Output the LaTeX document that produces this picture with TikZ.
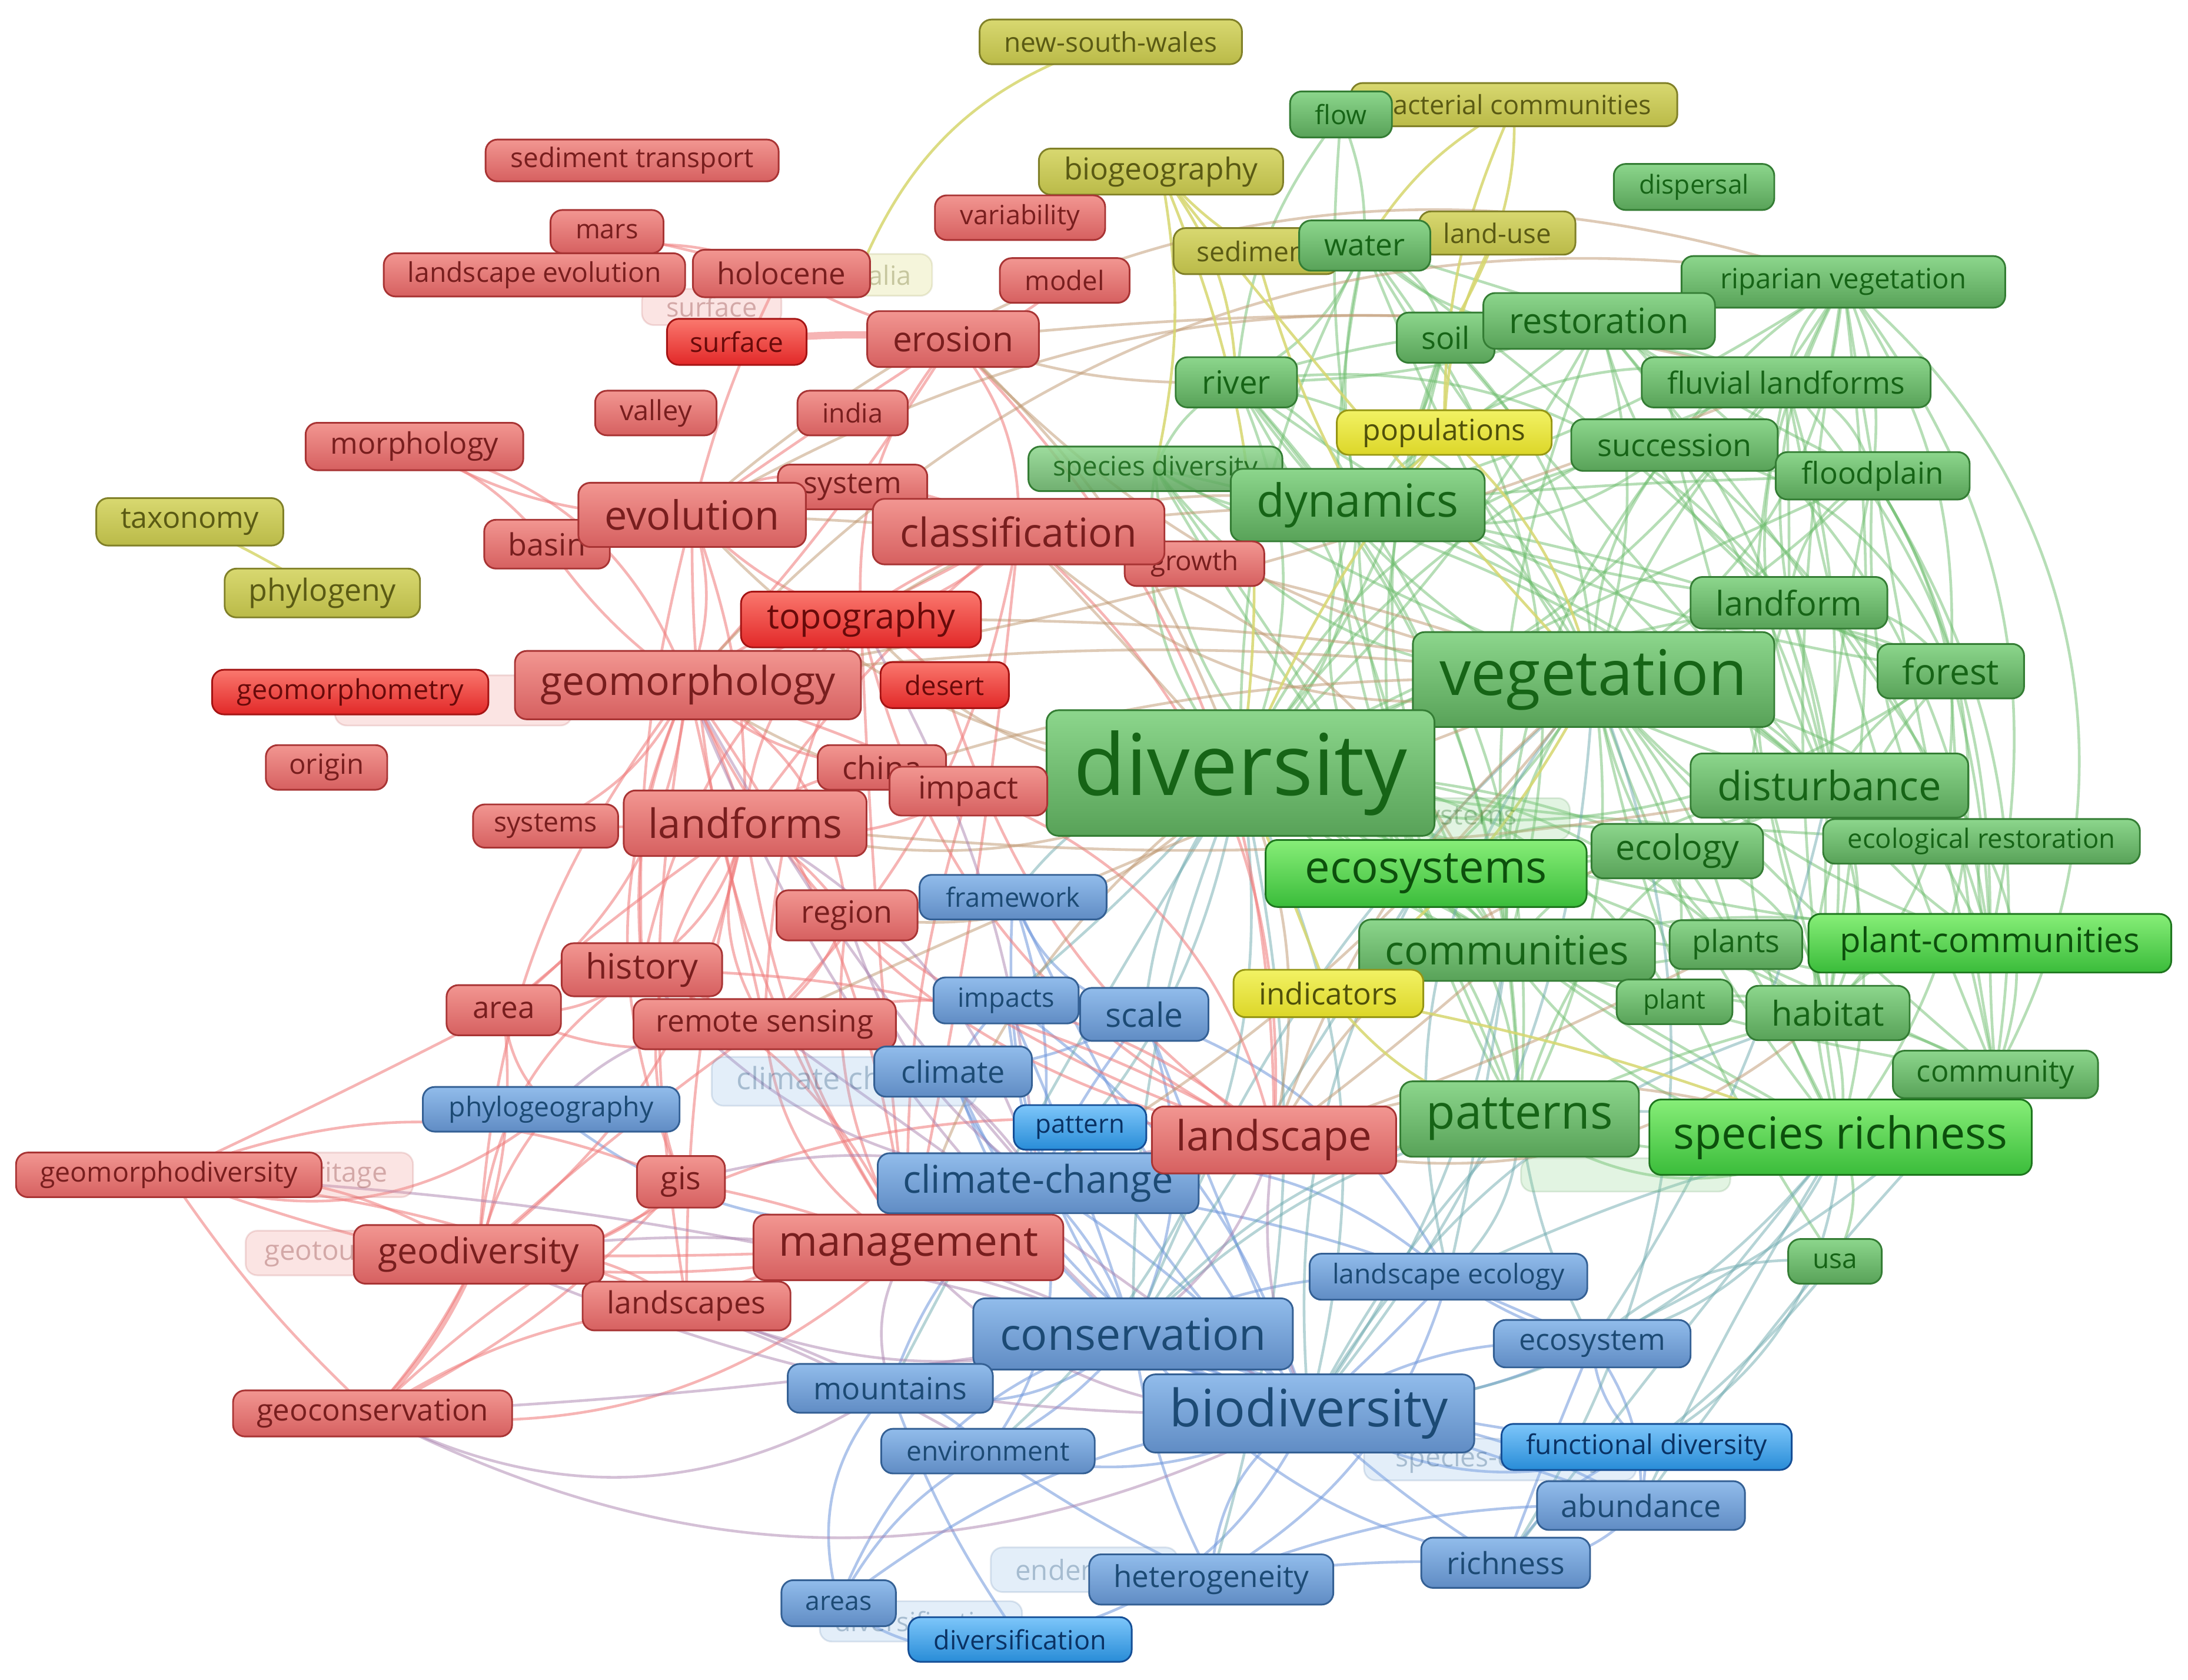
\documentclass[tikz,border=0pt]{standalone}
\usepackage{fontspec}
\setmainfont{Open Sans}
\pgfdeclarelayer{bg}
\pgfsetlayers{bg,main}
\definecolor{rTop}{RGB}{242,150,145}\definecolor{rBot}{RGB}{214,96,96}\definecolor{rBd}{RGB}{168,52,52}\definecolor{rTx}{RGB}{120,30,30}
\definecolor{rbTop}{RGB}{250,120,110}\definecolor{rbBot}{RGB}{226,40,40}\definecolor{rbBd}{RGB}{165,20,20}\definecolor{rbTx}{RGB}{105,10,10}
\definecolor{gTop}{RGB}{140,214,140}\definecolor{gBot}{RGB}{88,162,88}\definecolor{gBd}{RGB}{52,125,52}\definecolor{gTx}{RGB}{22,100,22}
\definecolor{gbTop}{RGB}{135,238,120}\definecolor{gbBot}{RGB}{58,188,58}\definecolor{gbBd}{RGB}{30,118,30}\definecolor{gbTx}{RGB}{12,80,12}
\definecolor{bTop}{RGB}{145,188,235}\definecolor{bBot}{RGB}{96,140,196}\definecolor{bBd}{RGB}{52,96,148}\definecolor{bTx}{RGB}{28,74,116}
\definecolor{bbTop}{RGB}{125,198,250}\definecolor{bbBot}{RGB}{40,140,215}\definecolor{bbBd}{RGB}{20,78,150}\definecolor{bbTx}{RGB}{10,50,100}
\definecolor{yTop}{RGB}{216,216,112}\definecolor{yBot}{RGB}{186,186,72}\definecolor{yBd}{RGB}{128,128,40}\definecolor{yTx}{RGB}{90,90,20}
\definecolor{ybTop}{RGB}{242,242,100}\definecolor{ybBot}{RGB}{220,214,40}\definecolor{ybBd}{RGB}{150,150,20}\definecolor{ybTx}{RGB}{80,80,10}
\definecolor{ceR}{RGB}{240,120,120}\definecolor{ceG}{RGB}{110,190,110}\definecolor{ceB}{RGB}{110,150,220}
\definecolor{ceY}{RGB}{215,215,110}\definecolor{ceM}{RGB}{190,150,110}\definecolor{ceP}{RGB}{170,130,175}\definecolor{ceT}{RGB}{110,170,175}
\newcommand\fz[1]{\fontsize{\fpeval{#1*0.569}pt}{\fpeval{#1*0.7}pt}\selectfont}
\newcommand\kw[8]{\node[#1,minimum width=#5*0.02cm,minimum height=#6*0.02cm,font=\fz{#7}] (#2) at (#3,#4) {#8};}
\tikzset{
  kwbase/.style={rounded corners=0.17cm,draw,line width=0.7pt,inner sep=0pt,shading=axis,shading angle=0},
  kR/.style={kwbase,top color=rTop,bottom color=rBot,draw=rBd,text=rTx},
  kRB/.style={kwbase,top color=rbTop,bottom color=rbBot,draw=rbBd,text=rbTx},
  kG/.style={kwbase,top color=gTop,bottom color=gBot,draw=gBd,text=gTx},
  kGB/.style={kwbase,top color=gbTop,bottom color=gbBot,draw=gbBd,text=gbTx},
  kB/.style={kwbase,top color=bTop,bottom color=bBot,draw=bBd,text=bTx},
  kBB/.style={kwbase,top color=bbTop,bottom color=bbBot,draw=bbBd,text=bbTx},
  kY/.style={kwbase,top color=yTop,bottom color=yBot,draw=yBd,text=yTx},
  kYB/.style={kwbase,top color=ybTop,bottom color=ybBot,draw=ybBd,text=ybTx},
  ghbase/.style={rounded corners=0.17cm,draw,line width=0.7pt,inner sep=0pt,fill opacity=0.25,draw opacity=0.15,text opacity=0.3},
  gR/.style={ghbase,fill=rTop,draw=rBd,text=rTx},
  gG/.style={ghbase,fill=gTop,draw=gBd,text=gTx},
  gB/.style={ghbase,fill=bTop,draw=bBd,text=bTx},
  gY/.style={ghbase,fill=yTop,draw=yBd,text=yTx},
  ebase/.style={line width=1.1pt,draw opacity=0.55},
  eR/.style={ebase,draw=ceR},
  eG/.style={ebase,draw=ceG,draw opacity=0.5},
  eB/.style={ebase,draw=ceB},
  eY/.style={ebase,draw=ceY,draw opacity=0.85},
  eM/.style={ebase,draw=ceM,draw opacity=0.5},
  eP/.style={ebase,draw=ceP,draw opacity=0.5},
  eT/.style={ebase,draw=ceT,draw opacity=0.5},
}
\begin{document}
\begin{tikzpicture}[x=0.02cm,y=-0.02cm]
\useasboundingbox (0,0) rectangle (1568,1204);
% ghost labels
\kw{gY}{aus}{615}{197}{106}{30}{19}{australia}
\kw{gR}{sfg}{510}{220}{100}{26}{19}{surface}
\kw{gR}{gmg}{325}{502}{170}{36}{19}{}
\kw{gR}{ghg}{223}{842}{146}{32}{19.6}{geoheritage}
\kw{gR}{gtg}{243}{898}{134}{32}{20}{geotourism}
\kw{gB}{clg}{605}{775}{190}{35}{22}{climate change}
\kw{gG}{sysg}{1050}{587}{150}{30}{19.5}{systems}
\kw{gG}{sprg}{1165}{842}{150}{24}{19}{}
\kw{gB}{spg}{1075}{1046}{195}{30}{19.5}{species-diversity}
\kw{gB}{edg}{777}{1125}{134}{32}{20}{endemism}
\kw{gB}{dfg}{660}{1162}{145}{29}{19}{diversification}
% olive / green
\kw{kY}{nsw}{796}{30}{188}{32}{19.4}{new-south-wales}
\kw{kY}{bac}{1085}{75}{234}{31}{19}{bacterial communities}
\kw{kG}{flow}{961}{82}{73}{33}{19}{flow}
\kw{kY}{bio}{832}{123}{175}{33}{21.7}{biogeography}
\kw{kY}{sed}{900}{180}{118}{33}{19.5}{sediment}
\kw{kY}{lus}{1073}{167}{112}{31}{19.3}{land-use}
\kw{kG}{wat}{978}{176}{94}{36}{21.7}{water}
\kw{kG}{dis}{1214}{134}{115}{33}{18.7}{dispersal}
\kw{kG}{rip}{1321}{202}{232}{37}{20}{riparian vegetation}
\kw{kG}{soil}{1036}{242}{70}{36}{22}{soil}
\kw{kG}{res}{1146}{230}{166}{40}{25}{restoration}
\kw{kG}{riv}{886}{274}{87}{36}{23}{river}
\kw{kG}{flu}{1280}{274}{207}{36}{21.8}{fluvial landforms}
\kw{kG,fill opacity=0.85}{spd}{828}{336}{182}{32}{19.3}{species diversity}
\kw{kG}{dyn}{973}{362}{182}{52}{32.7}{dynamics}
\kw{kG}{suc}{1200}{319}{148}{37}{22}{succession}
\kw{kG}{fld}{1342}{341}{139}{34}{21.6}{floodplain}
\kw{kG}{lfm}{1282}{432}{141}{37}{24.3}{landform}
\kw{kG}{veg}{1142}{487}{259}{68}{45}{vegetation}
\kw{kG}{for}{1398}{481}{105}{39}{25.5}{forest}
\kw{kG}{div}{889}{554}{278}{90}{61}{diversity}
\kw{kG}{ecr}{1420}{603}{227}{32}{19.2}{ecological restoration}
\kw{kG}{dst}{1311}{563}{199}{46}{29}{disturbance}
\kw{kG}{ecl}{1202}{610}{123}{39}{25}{ecology}
\kw{kGB}{eco}{1022}{626}{230}{48}{32}{ecosystems}
\kw{kG}{com}{1080}{681}{212}{44}{28.8}{communities}
\kw{kG}{plt}{1200}{718}{83}{32}{18.8}{plant}
\kw{kG}{pls}{1244}{677}{95}{35}{22}{plants}
\kw{kGB}{plc}{1426}{676}{260}{42}{24.5}{plant-communities}
\kw{kG}{hab}{1310}{726}{117}{39}{24.5}{habitat}
\kw{kG}{cmy}{1430}{770}{147}{34}{21.4}{community}
\kw{kG}{pat}{1089}{802}{171}{54}{34}{patterns}
\kw{kGB}{spr}{1319}{815}{274}{54}{31.7}{species richness}
\kw{kG}{usa}{1315}{904}{67}{32}{19.4}{usa}
\kw{kYB}{pop}{1035}{310}{154}{32}{21}{populations}
\kw{kY}{tax}{136}{374}{134}{34}{21.2}{taxonomy}
\kw{kY}{phy}{231}{425}{140}{35}{21.9}{phylogeny}
% red
\kw{kR}{stt}{453}{115}{210}{30}{19.4}{sediment transport}
\kw{kR}{mars}{435}{166}{81}{31}{19}{mars}
\kw{kR}{lev}{383}{197}{216}{31}{19.5}{landscape evolution}
\kw{kR}{hol}{560}{196}{127}{34}{21.5}{holocene}
\kw{kRB}{sfc}{528}{245}{100}{33}{19.5}{surface}
\kw{kR}{var}{731}{156}{122}{32}{19}{variability}
\kw{kR}{mod}{763}{201}{93}{32}{19.2}{model}
\kw{kR}{ero}{683}{243}{123}{40}{24.7}{erosion}
\kw{kR}{val}{470}{296}{87}{32}{19.8}{valley}
\kw{kR}{inda}{611}{296}{79}{32}{19}{india}
\kw{kR}{mor}{297}{320}{156}{34}{21.2}{morphology}
\kw{kR}{bas}{392}{390}{90}{35}{22}{basin}
\kw{kR}{syst}{611}{349}{107}{32}{21.2}{system}
\kw{kR}{evo}{496}{369}{163}{46}{28.9}{evolution}
\kw{kR}{gro}{856}{404}{100}{32}{19.3}{growth}
\kw{kR}{cla}{730}{381}{209}{47}{28.6}{classification}
\kw{kRB}{gmt}{251}{496}{198}{32}{19.7}{geomorphometry}
\kw{kR}{gmo}{493}{491}{248}{49}{28.6}{geomorphology}
\kw{kRB}{top}{617}{444}{172}{40}{25}{topography}
\kw{kRB}{des}{677}{491}{92}{33}{19.2}{desert}
\kw{kR}{ori}{234}{550}{87}{32}{20}{origin}
\kw{kR}{chi}{632}{550}{92}{32}{22.6}{china}
\kw{kR}{imp}{694}{567}{113}{35}{22.6}{impact}
\kw{kR}{syss}{391}{592}{104}{31}{19.6}{systems}
\kw{kR}{lfs}{534}{590}{174}{47}{29}{landforms}
\kw{kR}{reg}{607}{656}{101}{36}{22}{region}
\kw{kR}{his}{460}{695}{115}{38}{25}{history}
\kw{kR}{are}{361}{724}{82}{36}{21.6}{area}
\kw{kR}{rse}{548}{734}{188}{36}{21.7}{remote sensing}
\kw{kR}{gmd}{121}{842}{219}{32}{19.6}{geomorphodiversity}
\kw{kR}{gis}{488}{847}{63}{37}{22.7}{gis}
\kw{kR}{gdv}{343}{899}{179}{42}{25.6}{geodiversity}
\kw{kR}{lds}{492}{936}{149}{35}{21.9}{landscapes}
\kw{kR}{man}{651}{894}{222}{47}{29.9}{management}
\kw{kR}{gcn}{267}{1013}{200}{33}{21.5}{geoconservation}
% blue
\kw{kB}{fra}{726}{643}{134}{32}{19}{framework}
\kw{kB}{imps}{721}{717}{104}{33}{19}{impacts}
\kw{kB}{sca}{820}{727}{92}{38}{24}{scale}
\kw{kB}{cli}{683}{768}{113}{36}{22}{climate}
\kw{kB}{phg}{395}{795}{184}{32}{19.5}{phylogeography}
\kw{kB}{clc}{744}{848}{230}{43}{27.4}{climate-change}
\kw{kR}{lsc}{913}{817}{175}{48}{29.8}{landscape}
\kw{kBB}{ptn}{774}{808}{95}{32}{18.5}{pattern}
\kw{kYB}{ind}{952}{712}{136}{34}{21.6}{indicators}
\kw{kB}{lec}{1038}{915}{199}{33}{19.5}{landscape ecology}
\kw{kB}{con}{812}{956}{229}{51}{31.7}{conservation}
\kw{kB}{ecs}{1141}{963}{141}{34}{21.2}{ecosystem}
\kw{kB}{mou}{638}{995}{147}{35}{21.9}{mountains}
\kw{kB}{bdv}{938}{1013}{237}{56}{37}{biodiversity}
\kw{kB}{env}{708}{1040}{153}{32}{19.5}{environment}
\kw{kBB}{fun}{1180}{1037}{208}{33}{19.5}{functional diversity}
\kw{kB}{abu}{1176}{1079}{149}{35}{22}{abundance}
\kw{kB}{ric}{1079}{1120}{121}{36}{21.8}{richness}
\kw{kB}{het}{868}{1132}{175}{36}{21.6}{heterogeneity}
\kw{kB}{ars}{601}{1149}{82}{33}{18.8}{areas}
\kw{kBB}{dfn}{731}{1175}{160}{32}{19}{diversification}
% connectors
\begin{pgfonlayer}{bg}
\fill[white] (0,0) rectangle (1568,1204);
\foreach \a/\b [count=\i] in {div/veg, div/dyn, div/eco, div/com, div/pat, div/spr, div/dst, div/lfm, div/rip, div/flu, div/res, div/suc, div/fld, div/for, div/ecl, div/hab, div/pls, div/plc, div/plt, div/cmy, div/riv, div/wat, div/soil, div/spd, div/ecr, veg/dyn, veg/eco, veg/com, veg/pat, veg/spr, veg/dst, veg/lfm, veg/rip, veg/flu, veg/res, veg/suc, veg/fld, veg/for, veg/ecl, veg/hab, veg/pls, veg/plc, veg/plt, veg/cmy, veg/riv, veg/wat, veg/soil, veg/ecr, veg/usa, veg/spd, dyn/res, dyn/suc, dyn/dst, dyn/com, dyn/pat, dyn/rip, dyn/flu, dyn/fld, dyn/riv, dyn/wat, dyn/soil, dyn/spd, dyn/lfm, dyn/eco, dyn/for, rip/flu, rip/fld, rip/suc, rip/plc, rip/cmy, rip/dst, rip/hab, rip/lfm, rip/for, rip/spr, flu/fld, flu/lfm, flu/suc, flu/dst, flu/hab, flu/plc, flu/cmy, res/suc, res/ecr, res/soil, res/dst, res/com, res/plc, res/fld, res/for, suc/dst, suc/com, suc/plc, suc/fld, suc/for, suc/hab, fld/lfm, fld/for, fld/plc, fld/cmy, fld/hab, lfm/for, lfm/dst, lfm/spr, lfm/hab, for/dst, for/hab, for/cmy, for/spr, for/plc, dst/com, dst/spr, dst/plc, dst/hab, dst/ecr, dst/pat, dst/eco, eco/com, eco/pat, eco/spr, eco/ecl, com/pat, com/spr, com/plc, com/pls, com/hab, com/cmy, pat/spr, pat/hab, pat/cmy, spr/cmy, spr/hab, spr/usa, plc/cmy, plc/hab, hab/cmy, riv/wat, riv/flu, riv/res, wat/soil, wat/flu, wat/res, flow/wat, flow/riv, spd/riv, spd/com, ecl/hab, ecl/spr, pls/plc, plt/hab, ecr/plc, ecr/cmy, spd/veg, spd/eco, spd/pat, riv/dst, riv/com, wat/dst, wat/com, soil/dst, soil/com, riv/eco, wat/eco, riv/pat, flow/dyn, riv/lfm, wat/lfm, soil/pat, spd/dst, riv/for}
{\pgfmathtruncatemacro\bb{mod(\i*37,64)-32}\draw[eG] (\a.center) to[bend left=\bb] (\b.center);}
\foreach \a/\b [count=\i] in {bdv/con, bdv/clc, bdv/het, bdv/abu, bdv/ric, bdv/fun, bdv/ecs, bdv/lec, bdv/mou, bdv/env, bdv/sca, bdv/imps, bdv/cli, bdv/fra, bdv/ars, bdv/dfn, bdv/ptn, con/clc, con/mou, con/env, con/het, con/ecs, con/lec, con/fun, con/ars, con/cli, con/imps, con/sca, con/fra, con/abu, con/ric, clc/cli, clc/imps, clc/mou, clc/env, clc/sca, clc/fra, clc/lec, clc/ecs, clc/ptn, mou/ars, mou/env, mou/dfn, ars/dfn, ars/env, env/het, ecs/fun, ecs/abu, ecs/ric, lec/sca, lec/het, fun/abu, fun/ric, abu/ric, het/ric, sca/imps, sca/fra, cli/imps, cli/sca, phg/clc, het/abu, lec/ecs}
{\pgfmathtruncatemacro\bb{mod(\i*41,60)-30}\draw[eB] (\a.center) to[bend left=\bb] (\b.center);}
\foreach \a/\b [count=\i] in {spr/ric, spr/fun, spr/abu, spr/ecs, spr/lec, spr/bdv, pat/bdv, pat/lec, pat/ecs, div/bdv, div/con, veg/bdv, veg/con, div/clc, div/sca, div/het, eco/bdv, com/bdv, pat/con, dst/ecs, hab/bdv, cmy/ecs, usa/ecs, usa/fun, div/fra, div/imps, veg/lec, com/lec, spr/con, eco/con, div/env, div/mou, veg/ric, cmy/abu}
{\pgfmathtruncatemacro\bb{mod(\i*29,60)-30}\draw[eT] (\a.center) to[bend left=\bb] (\b.center);}
\foreach \a/\b [count=\i] in {gdv/gcn, gdv/gmd, gdv/lds, gdv/man, gdv/gis, gdv/phg, gdv/are, gdv/his, gdv/rse, gdv/lfs, gdv/gmo, gmd/gcn, gmd/phg, gmd/lds, gmd/man, gmd/gis, gmd/are, gcn/man, gcn/lds, gcn/gis, gcn/lsc, gmo/lfs, gmo/evo, gmo/top, gmo/ero, gmo/mor, gmo/bas, gmo/his, gmo/are, gmo/rse, gmo/gis, gmo/man, gmo/lds, gmo/reg, gmo/imp, gmo/chi, gmo/syss, gmo/cla, gmo/lsc, evo/lfs, evo/top, evo/cla, evo/ero, evo/bas, evo/mor, evo/his, evo/syst, evo/hol, evo/man, lfs/his, lfs/are, lfs/rse, lfs/reg, lfs/man, lfs/top, lfs/syss, lfs/imp, lfs/chi, lfs/lds, lfs/gis, lfs/cla, top/cla, top/ero, top/man, top/lsc, top/des, top/rse, cla/lsc, cla/man, cla/ero, cla/rse, cla/gro, cla/his, ero/hol, ero/mod, ero/lsc, hol/mars, hol/lev, mor/bas, man/lds, man/rse, man/lsc, man/his, man/reg, man/gis, lsc/rse, lsc/reg, lsc/his, his/are, his/rse, are/rse, reg/rse, imp/man, imp/lsc, chi/lfs, des/lsc, phg/are}
{\pgfmathtruncatemacro\bb{mod(\i*37,60)-30}\draw[eR] (\a.center) to[bend left=\bb] (\b.center);}
\foreach \a/\b [count=\i] in {cla/div, cla/veg, cla/dyn, top/div, top/veg, gmo/div, gmo/veg, evo/div, evo/veg, lfs/div, lfs/veg, ero/veg, ero/div, lsc/div, lsc/veg, lsc/pat, man/div, man/veg, lsc/spr, ero/riv, top/dyn, lfs/dst, evo/flu, gmo/flu, lsc/ecl, lsc/pls, cla/com, lsc/com, gmo/rip, imp/div, reg/div, rse/veg, lsc/hab, ero/res}
{\pgfmathtruncatemacro\bb{mod(\i*31,60)-30}\draw[eM] (\a.center) to[bend left=\bb] (\b.center);}
\foreach \a/\b [count=\i] in {man/con, man/bdv, man/clc, lds/con, gdv/con, gdv/bdv, lfs/clc, gmo/clc, rse/clc, rse/bdv, gcn/bdv, gmd/con, his/clc, top/clc, lsc/bdv, lsc/con, lsc/clc, phg/rse, gcn/con, gcn/mou, lds/mou, man/mou, gdv/env, reg/clc, gis/clc, gmo/con}
{\pgfmathtruncatemacro\bb{mod(\i*33,60)-30}\draw[eP] (\a.center) to[bend left=\bb] (\b.center);}
\foreach \a/\b [count=\i] in {tax/phy, bac/wat, bac/lus, bio/sed, bio/div, bio/veg, sed/wat, lus/soil, lus/pop, pop/dyn, pop/div, pop/veg, ind/div, ind/pat, ind/spr, ind/veg, bio/spd, sed/dyn, bio/riv}
{\pgfmathtruncatemacro\bb{mod(\i*23,40)-20}\draw[eY] (\a.center) to[bend left=\bb] (\b.center);}
\draw[eY] (nsw.center) to[bend right=25] (aus.center);
\draw[eY] (bac.center) to[bend right=12] (pop.center);
\draw[eR,line width=3pt] (sfc.center) to[bend left=5] (ero.center);
\draw[eR,line width=2pt] (gdv.center) to[bend left=10] (gcn.center);
\draw[eG,line width=2.2pt] (div.center) to[bend left=8] (veg.center);
\draw[eB,line width=2.2pt] (bdv.center) to[bend left=8] (con.center);
\draw[eG] (rip.center) to[bend left=40] (cmy.center);
\draw[eG] (fld.center) to[bend left=35] (spr.center);
\draw[eM] (evo.center) to[bend left=30] (rip.center);
\end{pgfonlayer}
\end{tikzpicture}
\end{document}
